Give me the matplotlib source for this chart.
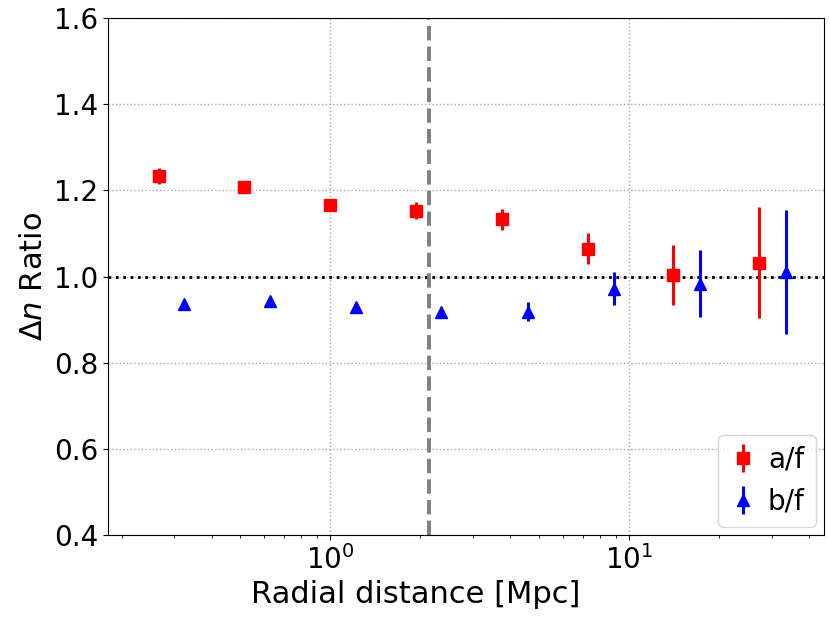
import numpy as np
import matplotlib
matplotlib.use("Agg")
import matplotlib.pyplot as plt

# a/f ratio
r_af = [0.266, 0.512, 1.0, 1.93, 3.74, 7.26, 14.0, 27.2]
ratio_af = [1.233, 1.207, 1.167, 1.153, 1.133, 1.065, 1.003, 1.032]
err_af = [0.019, 0.010, 0.012, 0.019, 0.025, 0.036, 0.070, 0.129]

# b/f ratio
r_bf = [0.323, 0.626, 1.22, 2.35, 4.57, 8.87, 17.2, 33.4]
ratio_bf = [0.937, 0.943, 0.929, 0.917, 0.918, 0.972, 0.984, 1.010]
err_bf = [0.008, 0.008, 0.009, 0.010, 0.022, 0.038, 0.078, 0.144]

r_cut = 2.14

fig = plt.figure(figsize=(8.3, 6.23), dpi=100)
ax = fig.add_axes([0.130, 0.141, 0.863, 0.830])

ax.errorbar(r_af, ratio_af, yerr=err_af, fmt="s", color="red", ms=9,
            elinewidth=2.2, capsize=0, label="a/f", zorder=3)
ax.errorbar(r_bf, ratio_bf, yerr=err_bf, fmt="^", color="blue", ms=9,
            elinewidth=2.2, capsize=0, label="b/f", zorder=3)

ax.axhline(1.0, color="black", ls=":", lw=2, zorder=2)
ax.axvline(r_cut, color="gray", ls="--", lw=2.8, zorder=2)

ax.set_xscale("log")
ax.set_xlim(0.18, 44.9)
ax.set_ylim(0.4, 1.6)
ax.set_yticks(np.arange(0.4, 1.61, 0.2))
ax.grid(True, which="major", ls=":", color="darkgray", lw=1)

ax.tick_params(axis="both", which="major", labelsize=20)
ax.set_xlabel("Radial distance [Mpc]", fontsize=22, x=0.429)
ax.set_ylabel(r"$\Delta n$ Ratio", fontsize=22)

ax.legend(loc="lower right", fontsize=20, handletextpad=0.4,
          handlelength=1.0, borderpad=0.4, borderaxespad=0.3)

fig.savefig("out.png", dpi=100)
